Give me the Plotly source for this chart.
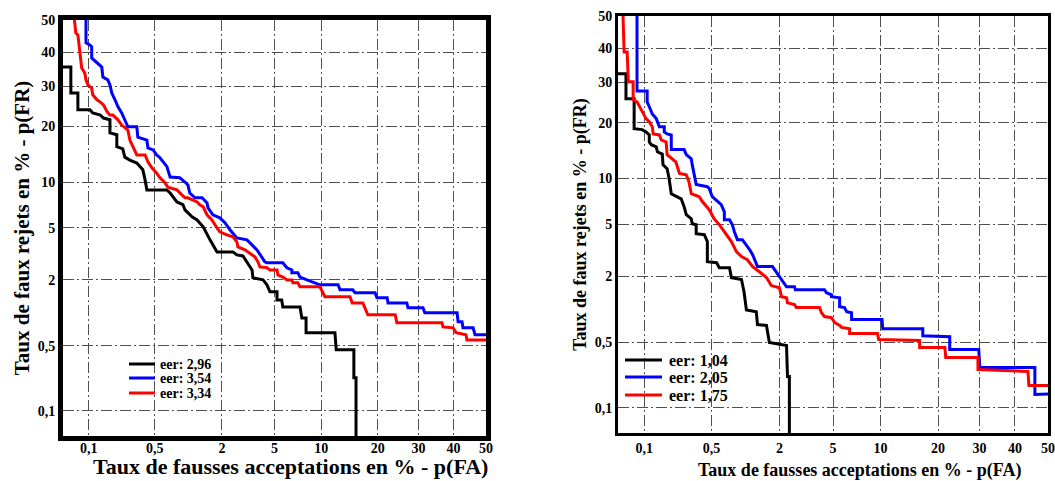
import plotly.graph_objects as go
from statistics import NormalDist

# ---------------- data (percent) ----------------
tick_values = [0.1, 0.5, 2, 5, 10, 20, 30, 40, 50]
tick_labels = ["0,1", "0,5", "2", "5", "10", "20", "30", "40", "50"]

legend_left = ["eer: 2,96", "eer: 3,54", "eer: 3,34"]
legend_right = ["eer: 1,04", "eer: 2,05", "eer: 1,75"]

x_title = "Taux de fausses acceptations en % - p(FA)"
y_title = "Taux de faux rejets en % - p(FR)"

# left panel
fa_left_black = [0.05, 0.062, 0.062, 0.075, 0.075, 0.103, 0.111, 0.135, 0.146, 0.172, 0.172, 0.204, 0.204, 0.236,
                 0.248, 0.28, 0.33, 0.38, 0.40, 0.417, 0.653, 0.70, 0.81, 0.92, 0.96, 1.11, 1.23, 1.39, 1.59, 1.75,
                 1.82, 2.45, 2.63, 2.93, 3.15, 3.44, 3.49, 4.14, 4.42, 4.64, 5.2, 5.2, 5.6, 5.7, 7.4, 7.6, 8.08, 8.08,
                 12.0, 12.2, 15.2, 15.2, 15.6, 15.6]
fr_left_black = [35.5, 35.5, 28.2, 28.2, 23.9, 23.9, 23.1, 22.6, 21.9, 21.5, 18.6, 18.2, 15.8, 15.4, 13.9, 13.4,
                 12.9, 11.8, 10.3, 8.95, 8.95, 8.56, 7.5, 7.2, 6.65, 5.97, 5.69, 5.09, 4.1, 3.59, 3.33, 3.33, 3.16,
                 3.1, 2.79, 2.4, 2.07, 1.99, 1.81, 1.58, 1.58, 1.34, 1.34, 1.16, 1.16, 0.92, 0.92, 0.668, 0.668,
                 0.454, 0.454, 0.233, 0.233, 0.03]

fa_left_blue = [0.093, 0.093, 0.103, 0.108, 0.108, 0.124, 0.14, 0.144, 0.163, 0.172, 0.18, 0.195, 0.21, 0.23, 0.248,
                0.267, 0.33, 0.338, 0.417, 0.427, 0.48, 0.52, 0.56, 0.6, 0.653, 0.70, 0.86, 0.96, 1.02, 1.06, 1.18,
                1.36, 1.5, 1.53, 1.68, 1.92, 2.12, 2.32, 2.63, 3.15, 3.44, 3.74, 4.27, 4.42, 5.7, 6.07, 6.55, 6.55,
                7.17, 7.4, 8.18, 9.82, 12.5, 12.8, 15.0, 15.4, 19.4, 19.8, 22.1, 22.3, 26.9, 27.2, 31.2, 31.7, 41.1,
                41.4, 42.6, 42.9, 46.0, 46.6, 50]
fr_left_blue = [52, 42.8, 42.2, 41.6, 38.2, 36.7, 35.5, 32.6, 31.8, 30.4, 28.2, 26.4, 24.6, 23.1, 21.5, 19.9, 19.9,
                17.7, 17.1, 15.6, 15.2, 14.3, 13.8, 13.1, 12.3, 10.7, 10.6, 10.0, 9.6, 8.56, 7.98, 7.98, 7.4, 6.86,
                6.17, 5.88, 5.42, 4.85, 4.24, 4.1, 3.76, 3.45, 2.79, 2.74, 2.74, 2.5, 2.4, 2.28, 2.28, 2.1, 1.99,
                1.81, 1.81, 1.64, 1.64, 1.55, 1.55, 1.4, 1.4, 1.26, 1.26, 1.14, 1.14, 1.03, 1.03, 0.85, 0.85, 0.745,
                0.745, 0.64, 0.64]

fa_left_red = [0.067, 0.071, 0.075, 0.079, 0.083, 0.09, 0.093, 0.098, 0.108, 0.111, 0.124, 0.135, 0.146, 0.16, 0.172,
               0.185, 0.21, 0.23, 0.248, 0.267, 0.28, 0.294, 0.317, 0.33, 0.40, 0.427, 0.467, 0.52, 0.56, 0.625,
               0.666, 0.81, 0.9, 0.96, 1.02, 1.11, 1.23, 1.3, 1.39, 1.5, 1.65, 1.82, 1.92, 2.19, 2.45, 2.63, 2.68,
               3.04, 3.31, 3.61, 3.8, 3.93, 4.42, 4.64, 5.2, 5.27, 5.7, 6.07, 6.55, 6.65, 7.17, 7.4, 9.82, 10.2,
               10.5, 14.5, 14.9, 16.9, 17.9, 24.0, 24.4, 36.6, 36.9, 39.9, 40.8, 43.8, 44.1, 50]
fr_left_red = [52, 45.9, 45.3, 39.1, 35.2, 33.8, 31.8, 30.4, 29.5, 27.7, 26.4, 25.8, 25.1, 23.4, 22.6, 22.6, 21.5,
               20.3, 19.7, 19.2, 17.1, 16.2, 14.8, 14.3, 14.3, 13.1, 12.1, 11.3, 10.6, 9.9, 9.3, 8.95, 8.33, 7.98,
               7.98, 7.74, 7.5, 7.2, 6.97, 6.17, 5.69, 5.0, 4.69, 4.46, 4.32, 3.96, 3.64, 3.45, 3.27, 3.05, 2.79,
               2.54, 2.5, 2.4, 2.4, 2.19, 2.1, 1.99, 1.99, 1.88, 1.88, 1.74, 1.74, 1.58, 1.43, 1.43, 1.26, 1.26,
               0.985, 0.985, 0.83, 0.83, 0.76, 0.745, 0.668, 0.64, 0.57, 0.57]

# right panel
fa_right_black = [0.05, 0.062, 0.062, 0.077, 0.077, 0.095, 0.105, 0.114, 0.114, 0.12, 0.136, 0.14, 0.158, 0.161,
                  0.178, 0.187, 0.197, 0.25, 0.268, 0.282, 0.317, 0.324, 0.355, 0.355, 0.427, 0.457, 0.457, 0.56,
                  0.595, 0.74, 0.77, 0.95, 1.0, 1.05, 1.28, 1.31, 1.56, 1.65, 2.27, 2.31, 2.39, 2.39]
fr_right_black = [32.4, 32.4, 25.7, 25.7, 18.7, 18.5, 18.0, 17.4, 16.0, 15.5, 15.1, 14.2, 13.8, 12.0, 11.4, 9.96,
                  8.04, 7.46, 6.62, 5.84, 5.48, 5.06, 4.98, 4.29, 4.22, 3.75, 2.63, 2.58, 2.35, 2.35, 1.95, 1.88,
                  1.48, 1.02, 0.98, 0.745, 0.73, 0.5, 0.466, 0.222, 0.222, 0.03]

fa_right_blue = [0.083, 0.083, 0.108, 0.108, 0.114, 0.123, 0.136, 0.14, 0.147, 0.166, 0.166, 0.178, 0.197, 0.197,
                 0.268, 0.282, 0.317, 0.324, 0.355, 0.457, 0.477, 0.51, 0.57, 0.62, 0.663, 0.663, 0.74, 0.785, 0.82,
                 0.873, 0.967, 1.05, 1.12, 1.19, 1.31, 1.75, 1.99, 2.27, 2.62, 2.66, 4.36, 4.5, 4.88, 4.88, 5.54,
                 5.54, 5.97, 6.17, 6.64, 6.64, 10.2, 10.3, 16.9, 16.9, 22.6, 22.6, 29.8, 30.1, 46.0, 46.0, 50]
fr_right_blue = [52, 27.7, 27.7, 24.9, 23.7, 22.0, 20.9, 20.2, 19.1, 19.1, 18.0, 17.6, 17.4, 14.6, 14.6, 13.7, 13.0,
                 12.0, 9.2, 8.9, 8.65, 7.69, 7.13, 6.82, 6.12, 5.4, 5.4, 4.98, 4.44, 3.88, 3.88, 3.55, 3.26, 2.98,
                 2.4, 2.4, 1.98, 1.63, 1.63, 1.54, 1.54, 1.45, 1.39, 1.34, 1.31, 1.09, 1.07, 0.98, 0.96, 0.83, 0.83,
                 0.68, 0.68, 0.58, 0.57, 0.425, 0.425, 0.277, 0.277, 0.141, 0.143]

fa_right_red = [0.057, 0.059, 0.064, 0.066, 0.075, 0.075, 0.083, 0.095, 0.105, 0.114, 0.123, 0.126, 0.147, 0.154,
                0.174, 0.178, 0.2, 0.22, 0.24, 0.282, 0.3, 0.317, 0.38, 0.41, 0.477, 0.53, 0.595, 0.663, 0.77, 0.855,
                0.95, 1.07, 1.19, 1.36, 1.56, 1.71, 1.99, 2.07, 2.27, 2.31, 2.62, 2.71, 4.02, 4.15, 4.36, 4.88, 5.12,
                5.54, 5.7, 6.45, 6.45, 9.6, 9.75, 16.3, 16.3, 21.5, 21.7, 29.6, 29.6, 43.9, 44.2, 50]
fr_right_red = [52, 38.8, 38.8, 30.2, 30.2, 25.4, 24.9, 22.5, 20.9, 20.2, 19.1, 17.6, 17.4, 16.4, 16.0, 13.7, 13.0,
                12.5, 10.7, 10.5, 9.55, 8.04, 7.69, 7.13, 6.32, 5.48, 4.98, 4.44, 3.75, 3.15, 2.88, 2.72, 2.4, 2.18,
                1.95, 1.67, 1.6, 1.34, 1.31, 1.18, 1.14, 1.07, 1.07, 0.96, 0.885, 0.865, 0.78, 0.73, 0.70, 0.68,
                0.61, 0.61, 0.534, 0.522, 0.445, 0.445, 0.352, 0.352, 0.264, 0.252, 0.177, 0.177]

# ---------------- probit (normal deviate) scale ----------------
_nd = NormalDist()


def probit(values):
    return [_nd.inv_cdf(v / 100.0) for v in values]


FONT = "Liberation Serif"
colors = ["#000000", "#0000FF", "#FF0000"]

W, H = 1055, 481
ML, MR, MT, MB = 60, 5, 14, 45
PW, PH = W - ML - MR, H - MT - MB


def px2paper_x(px):
    return (px - ML) / PW


def px2paper_y(py):
    return (H - MB - py) / PH


def xdom(a, b):
    return [px2paper_x(a), px2paper_x(b)]


def ydom(top, bottom):
    return [px2paper_y(bottom), px2paper_y(top)]


fig = go.Figure()

left_series = [(fa_left_black, fr_left_black), (fa_left_blue, fr_left_blue), (fa_left_red, fr_left_red)]
right_series = [(fa_right_black, fr_right_black), (fa_right_blue, fr_right_blue), (fa_right_red, fr_right_red)]

for (fa, fr), name, col in zip(left_series, legend_left, colors):
    fig.add_trace(go.Scatter(x=probit(fa), y=probit(fr), mode="lines", name=name, showlegend=False,
                             line=dict(color=col, width=3), xaxis="x", yaxis="y"))
for (fa, fr), name, col in zip(right_series, legend_right, colors):
    fig.add_trace(go.Scatter(x=probit(fa), y=probit(fr), mode="lines", name=name, showlegend=False,
                             line=dict(color=col, width=3), xaxis="x2", yaxis="y2"))

tv = probit(tick_values)
lo = _nd.inv_cdf(0.0005)

common = dict(tickvals=tv, ticktext=tick_labels, showgrid=True, gridcolor="#505050", gridwidth=1,
              griddash="11px,3px,2px,3px", zeroline=False, showline=True, mirror=True, linecolor="#000000",
              ticks="", automargin=False, range=[lo, 0],
              tickfont=dict(family=FONT, size=14, color="#000000", weight="bold"))

fig.update_layout(
    width=W, height=H,
    margin=dict(l=ML, r=MR, t=MT, b=MB),
    paper_bgcolor="white", plot_bgcolor="white",
    font=dict(family=FONT, color="#000000", weight="bold"),
    showlegend=False,
    xaxis=dict(domain=xdom(63, 486), linewidth=5, anchor="y", ticklabelstandoff=-5, **common),
    yaxis=dict(domain=ydom(20, 436), linewidth=5, anchor="x",
               title=dict(text=y_title, standoff=4, font=dict(family=FONT, size=21, weight="bold")), **common),
    xaxis2=dict(domain=xdom(618, 1048), linewidth=3, anchor="y2", **common),
    yaxis2=dict(domain=ydom(16, 433), linewidth=3, anchor="x2",
                title=dict(text=y_title, standoff=4, font=dict(family=FONT, size=18, weight="bold")), **common),
)

# x-axis titles (placed as in the original figure)
fig.add_annotation(xref="paper", yref="paper", x=px2paper_x(290), y=px2paper_y(466), text=x_title,
                   showarrow=False, xanchor="center", yanchor="middle",
                   font=dict(family=FONT, size=22, color="#000000", weight="bold"))
fig.add_annotation(xref="paper", yref="paper", x=px2paper_x(860), y=px2paper_y(471), text=x_title,
                   showarrow=False, xanchor="center", yanchor="middle",
                   font=dict(family=FONT, size=18, color="#000000", weight="bold"))


# legends (line swatches + labels)
def add_legend(names, x0, x1, xtext, rows, size):
    for name, col, yy in zip(names, colors, rows):
        yp = px2paper_y(yy)
        fig.add_shape(type="line", xref="paper", yref="paper", x0=px2paper_x(x0), x1=px2paper_x(x1),
                      y0=yp, y1=yp, line=dict(color=col, width=3))
        fig.add_annotation(xref="paper", yref="paper", x=px2paper_x(xtext), y=yp, text=name, showarrow=False,
                           xanchor="left", yanchor="middle", borderpad=0,
                           font=dict(family=FONT, size=size, color="#000000", weight="bold"))


add_legend(legend_left, 129, 155, 159, [364, 378, 393], 14)
add_legend(legend_right, 625, 662, 668, [360, 377, 395], 16)

fig.write_html("out.html", config={"displayModeBar": False},
               post_script="document.body.style.margin='0';")
